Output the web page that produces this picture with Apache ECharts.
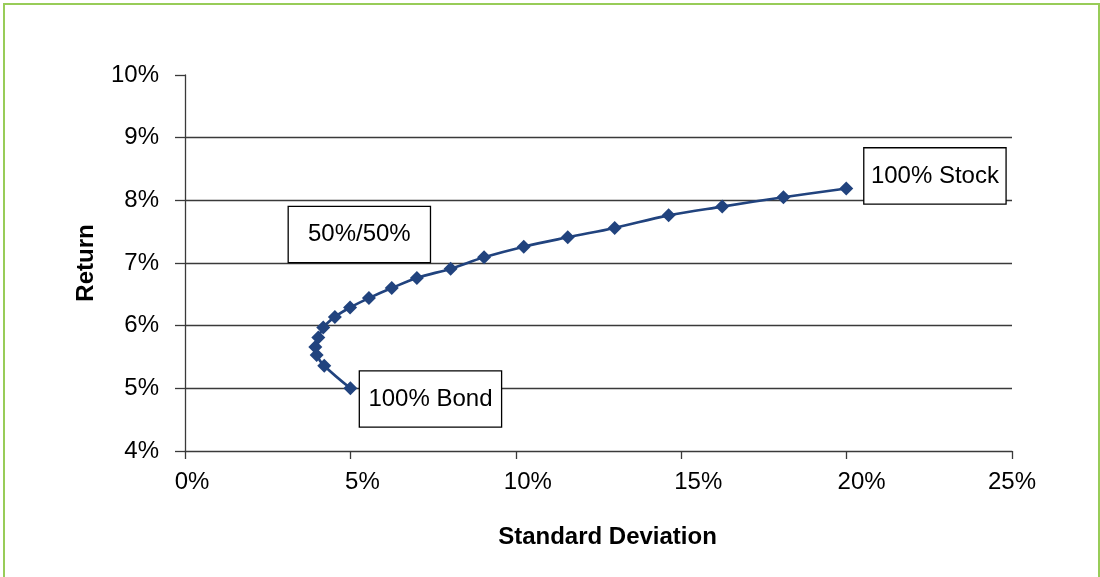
<!DOCTYPE html>
<html>
<head>
<meta charset="utf-8">
<title>Risk and Return: Stock/Bond Portfolios</title>
<script src="https://cdn.jsdelivr.net/npm/echarts@6/dist/echarts.min.js"></script>
<style>
  html, body { margin: 0; padding: 0; background: #ffffff; }
  #frame {
    position: absolute; left: 3px; top: 3px; width: 1097px; height: 620px;
    border: 2px solid #98cc58; box-sizing: border-box;
  }
  #chart { position: absolute; left: 0; top: 0; width: 1100px; height: 577px; }
</style>
</head>
<body>
<div id="frame"></div>
<div id="chart"></div>
<script>
// Portfolio mixes from 100% bonds to 100% stocks (values in percent)
const stdDev = [5.00, 4.21, 3.98, 3.94, 4.03, 4.18, 4.53, 4.99, 5.56, 6.25,
                7.01, 8.03, 9.04, 10.24, 11.57, 12.99, 14.62, 16.24, 18.09, 19.99];
const portfolioReturn = [5.00, 5.36, 5.53, 5.66, 5.81, 5.97, 6.14, 6.29, 6.44, 6.60,
                         6.76, 6.91, 7.09, 7.26, 7.41, 7.56, 7.76, 7.90, 8.05, 8.19];

const xTicks = [0, 5, 10, 15, 20, 25];
const yTicks = [4, 5, 6, 7, 8, 9, 10];

const calloutText = ['100% Stock', '50%/50%', '100% Bond'];
// where each callout box is centred, in axis units
const calloutAt = [[22.67, 8.39], [5.27, 7.455], [7.42, 4.83]];

// small horizontal nudges of the x tick labels
const xLabelNudge = [7, 12, 12, 17, 15, 0];

const FONT = '"Liberation Sans", Arial, Helvetica, sans-serif';

const points = stdDev.map((s, i) => [s, portfolioReturn[i]]);

const richNudge = {};
xLabelNudge.forEach((n, i) => {
  richNudge['n' + i] = { fontSize: 24, fontFamily: FONT, color: '#000', padding: [0, 0, 0, 2 * n] };
});

const chart = echarts.init(document.getElementById('chart'), null, { renderer: 'canvas' });

chart.setOption({
  animation: false,
  backgroundColor: 'transparent',
  grid: { left: 185, right: 88, top: 75, bottom: 126, containLabel: false },
  xAxis: {
    type: 'value',
    min: xTicks[0], max: xTicks[xTicks.length - 1], interval: 5,
    name: 'Standard Deviation',
    nameLocation: 'middle',
    nameGap: 74,
    nameTextStyle: { fontSize: 24, fontWeight: 'bold', color: '#000', fontFamily: FONT, padding: [0, 0, 0, 18] },
    axisLine: { show: true, lineStyle: { color: '#3a3a3a', width: 1.3 } },
    axisTick: { show: true, inside: false, length: 8, lineStyle: { color: '#3a3a3a', width: 1.3 } },
    axisLabel: {
      margin: 19,
      formatter: (v) => {
        const i = xTicks.indexOf(v);
        return '{n' + i + '|' + v + '%}';
      },
      rich: richNudge
    },
    splitLine: { show: false }
  },
  yAxis: {
    type: 'value',
    min: yTicks[0], max: yTicks[yTicks.length - 1], interval: 1,
    name: 'Return',
    nameLocation: 'middle',
    nameGap: 87,
    nameTextStyle: { fontSize: 24, fontWeight: 'bold', color: '#000', fontFamily: FONT },
    axisLine: { show: true, lineStyle: { color: '#3a3a3a', width: 1.3 } },
    axisTick: { show: true, inside: false, length: 10, lineStyle: { color: '#3a3a3a', width: 1.3 } },
    axisLabel: { margin: 26, fontSize: 24, color: '#000', fontFamily: FONT, formatter: '{value}%' },
    splitLine: {
      show: true,
      lineStyle: {
        width: 1.3,
        color: ['transparent', '#3a3a3a', '#3a3a3a', '#3a3a3a', '#3a3a3a', '#3a3a3a', 'transparent']
      }
    }
  },
  series: [
    {
      type: 'line',
      data: points,
      smooth: 0.35,
      symbol: 'diamond',
      symbolSize: 14,
      showAllSymbol: true,
      lineStyle: { color: '#21437e', width: 2.6 },
      itemStyle: { color: '#21437e' },
      z: 3,
      markPoint: {
        symbol: 'rect',
        symbolSize: 0,
        silent: true,
        data: calloutText.map((t, i) => ({
          coord: calloutAt[i],
          value: t,
          label: {
            show: true,
            position: 'inside',
            formatter: t,
            fontSize: 24,
            fontFamily: FONT,
            color: '#000',
            width: 141,
            height: 55,
            lineHeight: 55,
            align: 'center',
            verticalAlign: 'middle',
            backgroundColor: '#ffffff',
            borderColor: '#000000',
            borderWidth: 1.3
          }
        }))
      }
    }
  ]
});
</script>
</body>
</html>
